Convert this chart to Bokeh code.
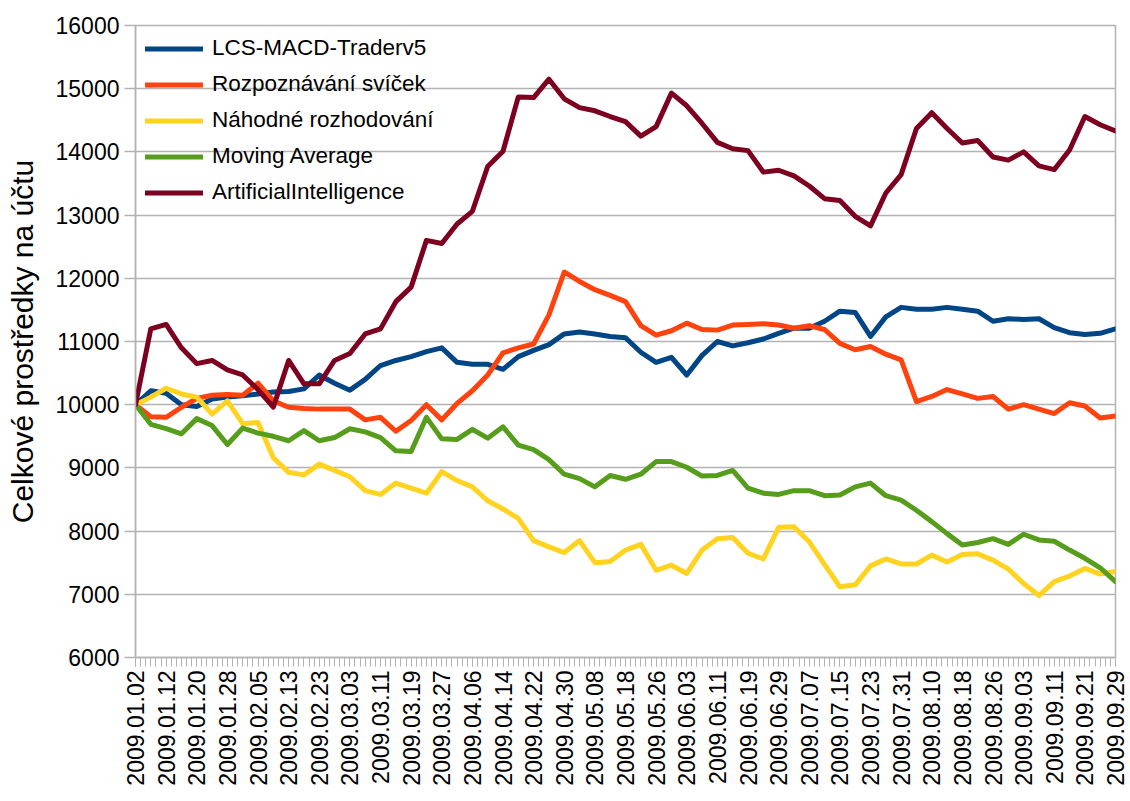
import math
from bokeh.plotting import figure
from bokeh.models import Range1d, FixedTicker, Legend, LegendItem
from bokeh.embed import file_html
from bokeh.resources import INLINE

# ---- data -------------------------------------------------------------
tick_labels = ["2009.01.02", "2009.01.12", "2009.01.20", "2009.01.28", "2009.02.05",
               "2009.02.13", "2009.02.23", "2009.03.03", "2009.03.11", "2009.03.19",
               "2009.03.27", "2009.04.06", "2009.04.14", "2009.04.22", "2009.04.30",
               "2009.05.08", "2009.05.18", "2009.05.26", "2009.06.03", "2009.06.11",
               "2009.06.19", "2009.06.29", "2009.07.07", "2009.07.15", "2009.07.23",
               "2009.07.31", "2009.08.10", "2009.08.18", "2009.08.26", "2009.09.03",
               "2009.09.11", "2009.09.21", "2009.09.29"]
n_days = 193            # trading days 2009.01.02 .. 2009.09.29
label_every = 6         # one date label every 6 trading days
sample_day = list(range(0, n_days, 3))   # trading-day index of every reading

lcs_macd = [10000, 10220, 10180, 10000, 9970, 10090, 10120, 10140, 10170, 10200,
            10210, 10250, 10470, 10340, 10230, 10400, 10620, 10700, 10760, 10840,
            10900, 10670, 10640, 10640, 10560, 10760, 10860, 10950, 11120, 11150,
            11120, 11080, 11060, 10830, 10670, 10750, 10470, 10780, 11000, 10930,
            10980, 11040, 11130, 11210, 11210, 11320, 11480, 11460, 11080, 11390,
            11540, 11510, 11510, 11540, 11510, 11480, 11320, 11360, 11350, 11360,
            11220, 11140, 11110, 11130, 11200]
svicky = [10000, 9810, 9800, 9960, 10100, 10150, 10160, 10150, 10340, 10060,
          9960, 9940, 9930, 9930, 9930, 9760, 9800, 9580, 9750, 10000,
          9760, 10020, 10220, 10470, 10820, 10900, 10960, 11420, 12100, 11950,
          11820, 11730, 11630, 11250, 11100, 11170, 11290, 11190, 11180, 11260,
          11270, 11280, 11260, 11210, 11250, 11190, 10970, 10870, 10920, 10800,
          10710, 10050, 10130, 10240, 10170, 10100, 10130, 9930, 10000, 9930,
          9860, 10030, 9980, 9790, 9820]
nahodne = [10000, 10120, 10260, 10170, 10120, 9850, 10060, 9700, 9720, 9160,
           8930, 8890, 9060, 8960, 8860, 8640, 8580, 8760, 8680, 8600,
           8940, 8800, 8700, 8480, 8350, 8200, 7850, 7750, 7660, 7850,
           7500, 7520, 7700, 7790, 7380, 7460, 7330, 7700, 7880, 7900,
           7650, 7560, 8060, 8070, 7830, 7470, 7120, 7150, 7450, 7560,
           7480, 7480, 7620, 7510, 7630, 7640, 7540, 7400, 7170, 6980,
           7200, 7290, 7410, 7320, 7360]
moving_avg = [10000, 9690, 9620, 9540, 9780, 9670, 9370, 9630, 9550, 9500,
              9430, 9590, 9430, 9480, 9620, 9570, 9480, 9270, 9260, 9800,
              9460, 9450, 9610, 9470, 9650, 9360, 9290, 9130, 8900, 8830,
              8700, 8880, 8820, 8900, 9100, 9100, 9010, 8870, 8880, 8960,
              8680, 8600, 8580, 8640, 8640, 8560, 8570, 8700, 8760, 8560,
              8490, 8330, 8150, 7960, 7780, 7820, 7880, 7790, 7950, 7860,
              7840, 7700, 7570, 7420, 7200]
ai = [10000, 11200, 11270, 10900, 10650, 10700, 10550, 10470, 10240, 9960,
      10700, 10330, 10330, 10700, 10810, 11120, 11200, 11630, 11860, 12600,
      12550, 12860, 13060, 13770, 14010, 14870, 14860, 15150, 14840, 14700,
      14650, 14560, 14480, 14250, 14400, 14930, 14730, 14450, 14150, 14050,
      14020, 13680, 13710, 13620, 13460, 13260, 13230, 12980, 12830, 13350,
      13640, 14370, 14620, 14370, 14140, 14180, 13920, 13870, 14000, 13780,
      13720, 14030, 14560, 14430, 14330]

series_names = ["LCS-MACD-Traderv5", "Rozpoznávání svíček", "Náhodné rozhodování",
                "Moving Average", "ArtificialIntelligence"]
series_values = [lcs_macd, svicky, nahodne, moving_avg, ai]
series_colors = ["#004586", "#ff420e", "#ffd320", "#579d1c", "#7e0021"]

y_ticks = list(range(6000, 16001, 1000))

# ---- figure -----------------------------------------------------------
FONT = "Liberation Sans"
GRID = "#b3b3b3"

p = figure(width=1130, height=795, output_backend="svg", toolbar_location=None,
           x_range=Range1d(0, n_days - 1), y_range=Range1d(6000, 16000),
           min_border_left=135, min_border_right=15, min_border_top=25,
           min_border_bottom=138)
p.background_fill_color = "white"
p.border_fill_color = "white"
p.outline_line_color = GRID
p.outline_line_width = 1.5

renderers = []
for vals, col in zip(series_values, series_colors):
    r = p.line(sample_day, vals, line_color=col, line_width=5,
               line_join="round", line_cap="round")
    renderers.append(r)

legend = Legend(items=[LegendItem(label=n, renderers=[r])
                       for n, r in zip(series_names, renderers)],
                location="top_left")
legend.background_fill_alpha = 0
legend.border_line_alpha = 0
legend.margin = 3
legend.padding = 7
legend.spacing = 10
legend.glyph_width = 58
legend.glyph_height = 25
legend.label_height = 25
legend.label_standoff = 9
legend.label_text_font = FONT
legend.label_text_font_size = "22.5px"
legend.label_text_color = "#000000"
p.add_layout(legend)

# x axis
major = [k * label_every for k in range(len(tick_labels))]
p.xaxis.ticker = FixedTicker(ticks=major, minor_ticks=list(range(n_days)))
p.xaxis.major_label_overrides = {t: lab for t, lab in zip(major, tick_labels)}
p.xaxis.major_label_orientation = math.pi / 2
p.xaxis.major_label_text_font = FONT
p.xaxis.major_label_text_font_size = "23px"
p.xaxis.major_label_text_color = "#000000"
p.xaxis.axis_line_color = GRID
p.xaxis.axis_line_width = 1.5
p.xaxis.major_tick_line_color = GRID
p.xaxis.minor_tick_line_color = GRID
p.xaxis.major_tick_out = 9
p.xaxis.major_tick_in = 0
p.xaxis.minor_tick_out = 9
p.xaxis.minor_tick_in = 0
p.xaxis.major_label_standoff = 4
p.xgrid.visible = False

# y axis
p.yaxis.ticker = FixedTicker(ticks=y_ticks)
p.yaxis.major_label_overrides = {t: str(t) for t in y_ticks}
p.yaxis.major_label_text_font = FONT
p.yaxis.major_label_text_font_size = "23px"
p.yaxis.major_label_text_color = "#000000"
p.yaxis.axis_line_color = GRID
p.yaxis.axis_line_width = 1.5
p.yaxis.major_tick_line_color = GRID
p.yaxis.major_tick_line_width = 1.5
p.yaxis.major_tick_out = 11
p.yaxis.major_tick_in = 0
p.yaxis.minor_tick_line_color = None
p.yaxis.major_label_standoff = 5
p.yaxis.axis_label = "Celkové prostředky na účtu"
p.yaxis.axis_label_text_font = FONT
p.yaxis.axis_label_text_font_size = "30px"
p.yaxis.axis_label_text_font_style = "normal"
p.yaxis.axis_label_text_color = "#000000"
p.yaxis.axis_label_standoff = 14
p.ygrid.ticker = FixedTicker(ticks=y_ticks)
p.ygrid.grid_line_color = GRID
p.ygrid.grid_line_width = 1.5

open("out.html", "w").write(file_html(p, INLINE))
